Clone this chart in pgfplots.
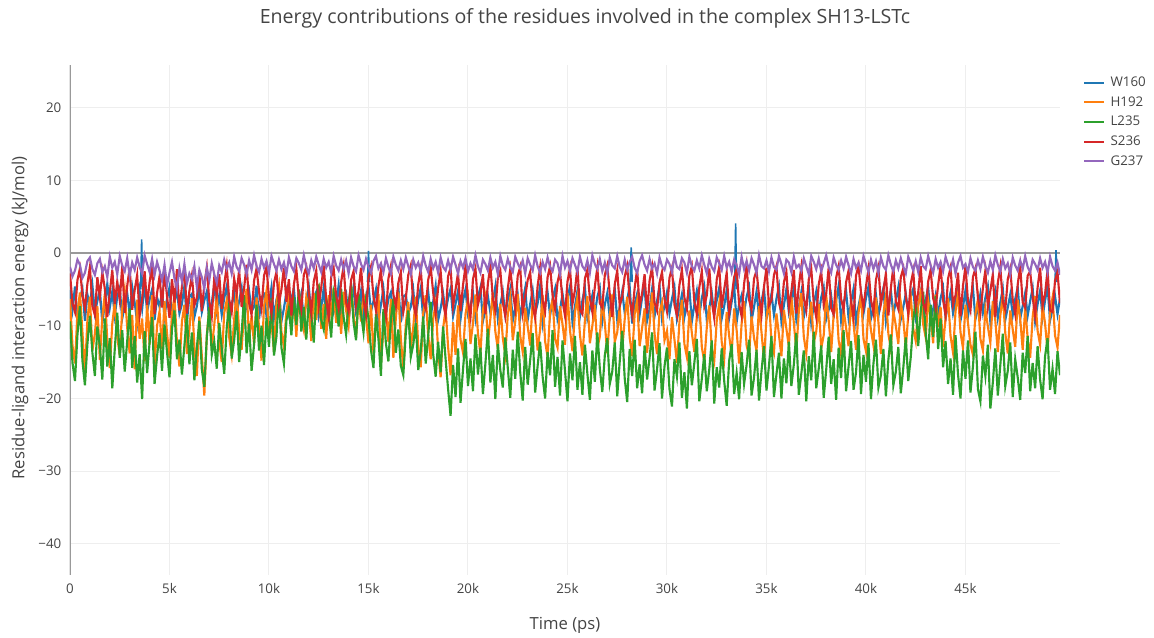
\documentclass[border=0pt]{standalone}
\usepackage{fontspec}
\setmainfont{Open Sans}
\usepackage{pgfplots}
\pgfplotsset{compat=1.18}
\usepackage{pgfplotstable}
\definecolor{cW}{HTML}{1F77B4}
\definecolor{cH}{HTML}{FF7F0E}
\definecolor{cL}{HTML}{2CA02C}
\definecolor{cS}{HTML}{D62728}
\definecolor{cG}{HTML}{9467BD}
\definecolor{txt}{HTML}{444444}
\definecolor{gridc}{HTML}{EEEEEE}
\definecolor{zeroc}{HTML}{999999}

\pgfplotstableread{
t W H L S G
0 -5.1 -6.3 -9.4 -2.8 -1.9
125 -7.8 -12.7 -15.1 -6.9 -3.2
250 -4.6 -15.2 -17.6 -8.1 -2.4
375 -8.9 -8.1 -11.2 -3.7 -0.9
500 -6.2 -5.4 -7.3 -2.1 -1.6
625 -4.9 -10.9 -14.8 -5.8 -3.4
750 -9.3 -16.6 -18.2 -7.6 -2.7
875 -5.7 -9.2 -12.5 -4.2 -1.1
1000 -7.1 -6.0 -8.6 -1.9 -0.6
1125 -4.4 -13.4 -13.7 -7.3 -2.2
1250 -8.2 -11.1 -16.9 -8.5 -3.0
1375 -6.6 -7.3 -10.1 -3.3 -1.4
1500 -5.0 -14.7 -12.8 -6.0 -0.8
1625 -9.7 -8.8 -17.4 -2.6 -2.6
1750 -6.9 -5.6 -9.0 -4.9 -1.8
1875 -4.2 -12.0 -15.6 -8.8 -3.3
2000 -7.5 -15.8 -11.7 -5.4 -0.5
2125 -5.3 -9.7 -18.6 -2.3 -2.0
2250 -8.6 -6.8 -13.2 -7.0 -1.2
2375 -6.0 -11.5 -8.2 -3.9 -2.9
2500 -4.8 -14.1 -14.4 -6.5 -0.4
2625 -9.0 -7.6 -10.6 -1.8 -1.7
2750 -7.2 -5.1 -16.3 -8.2 -2.5
2875 -5.5 -10.3 -12.1 -4.5 -0.7
3000 -8.4 -13.8 -7.6 -2.0 -3.1
3125 -4.6 -8.5 -15.8 -7.8 -1.3
3250 -6.8 -16.0 -11.4 -5.1 -2.3
3375 -9.5 -6.4 -17.8 -3.0 -0.6
3500 -5.2 -11.8 -13.9 -8.6 -1.9
3625 -7.7 -9.0 -20.1 -6.3 -2.8
3750 -4.3 -14.9 -10.7 -2.5 -0.3
3875 -8.0 -7.0 -16.5 -7.1 -1.5
4000 -6.4 -12.6 -12.3 -4.0 -2.6
4125 -5.0 -5.8 -8.8 -1.7 -0.8
4250 -9.2 -15.5 -18.0 -8.4 -3.0
4375 -6.1 -10.0 -14.2 -5.5 -1.2
4500 -7.4 -8.0 -11.0 -3.2 -2.4
4625 -5.4 -13.2 -16.2 -7.5 -3.8
4750 -8.7 -6.6 -9.8 -2.4 -1.6
4875 -6.3 -11.0 -13.6 -5.9 -4.4
5000 -4.7 -14.4 -17.1 -8.9 -2.7
5125 -9.1 -8.3 -10.4 -3.6 -1.2
5250 -6.7 -5.9 -7.9 -6.8 -3.5
5375 -5.1 -12.3 -14.6 -2.2 -4.9
5500 -8.3 -15.6 -11.9 -7.9 -2.1
5625 -7.0 -9.4 -16.7 -4.6 -3.9
5750 -4.5 -7.1 -12.7 -1.9 -1.5
5875 -9.4 -13.9 -8.5 -8.3 -4.2
6000 -6.0 -10.5 -15.3 -5.2 -2.8
6125 -5.6 -6.2 -10.9 -3.1 -3.6
6250 -8.8 -12.8 -17.5 -7.2 -1.8
6375 -7.3 -16.9 -13.0 -6.1 -4.7
6500 -4.9 -8.7 -9.3 -2.7 -2.3
6625 -8.1 -14.2 -16.0 -8.0 -3.3
6750 -6.5 -19.6 -18.4 -4.3 -4.9
6875 -5.3 -11.3 -11.6 -2.0 -2.0
7000 -9.6 -7.5 -7.4 -6.6 -3.7
7125 -6.8 -13.0 -14.0 -8.7 -1.4
7250 -4.4 -9.9 -12.2 -3.4 -2.9
7375 -7.9 -5.7 -15.9 -5.7 -4.1
7500 -5.8 -12.1 -9.6 -2.9 -1.7
7625 -8.5 -15.0 -13.1 -7.7 -2.6
7750 -6.2 -8.2 -16.6 -4.4 -0.9
7875 -4.6 -6.5 -10.3 -1.8 -2.2
8000 -9.0 -11.6 -6.9 -6.4 -1.3
8125 -7.1 -14.0 -14.5 -8.1 -2.8
8250 -5.5 -9.1 -12.0 -3.5 -0.5
8375 -8.3 -5.3 -8.0 -5.6 -1.9
8500 -6.6 -10.7 -15.0 -2.3 -2.5
8625 -4.8 -13.3 -11.1 -7.4 -0.7
8750 -9.3 -7.8 -5.8 -4.8 -1.6
8875 -6.9 -4.9 -13.8 -1.6 -2.9
9000 -5.2 -11.9 -9.7 -6.9 -1.0
9125 -8.0 -8.6 -16.2 -8.5 -2.3
9250 -7.4 -12.6 -12.6 -3.8 -0.3
9375 -4.5 -6.1 -7.1 -2.1 -1.8
9500 -9.1 -10.2 -13.4 -5.3 -2.6
9625 -6.1 -14.8 -10.0 -7.6 -0.8
9750 -5.7 -7.3 -15.4 -3.1 -2.0
9875 -8.7 -5.2 -8.9 -1.9 -1.1
10000 -7.0 -11.4 -12.9 -6.2 -2.7
10125 -4.7 -9.5 -6.2 -8.3 -0.4
10250 -8.9 -13.6 -14.1 -4.1 -1.5
10375 -6.4 -6.9 -11.5 -2.6 -2.4
10500 -5.0 -4.6 -5.5 -7.0 -0.9
10625 -9.4 -10.8 -13.0 -5.0 -2.2
10750 -7.6 -12.9 -15.2 -2.0 -1.3
10875 -5.4 -8.0 -9.3 -6.7 -2.9
11000 -8.2 -5.9 -7.6 -3.6 -0.6
11125 -6.3 -9.7 -11.3 -8.6 -1.8
11250 -4.9 -6.4 -6.0 -4.3 -2.5
11375 -8.6 -11.5 -9.9 -2.2 -0.7
11500 -7.2 -5.1 -5.0 -6.1 -1.4
11625 -5.6 -8.9 -10.8 -7.8 -2.3
11750 -9.0 -10.6 -7.4 -3.0 -0.3
11875 -6.7 -6.0 -11.9 -1.9 -1.9
12000 -4.6 -7.7 -6.5 -5.5 -2.8
12125 -8.4 -12.1 -8.6 -8.2 -1.0
12250 -6.0 -5.5 -12.3 -3.9 -2.1
12375 -5.3 -9.2 -5.7 -2.4 -0.5
12500 -8.8 -4.3 -4.7 -7.2 -1.6
12625 -7.5 -10.4 -9.2 -4.7 -2.6
12750 -4.8 -7.0 -10.5 -1.7 -0.8
12875 -9.2 -11.8 -6.3 -6.4 -2.0
13000 -6.5 -5.8 -8.1 -8.8 -1.2
13125 -5.1 -8.4 -11.6 -3.3 -2.7
13250 -8.1 -4.8 -5.4 -2.1 -0.4
13375 -7.0 -9.6 -7.0 -5.9 -1.7
13500 -4.4 -6.7 -10.1 -7.6 -2.4
13625 -8.7 -11.1 -4.9 -4.0 -0.9
13750 -6.2 -5.3 -8.8 -1.8 -2.2
13875 -5.5 -7.9 -11.2 -6.8 -1.0
14000 -9.1 -10.0 -6.8 -8.0 -2.8
14125 -6.8 -4.5 -4.4 -3.7 -0.6
14250 -4.7 -8.3 -9.5 -2.5 -1.8
14375 -8.2 -11.5 -12.0 -7.1 -2.5
14500 -7.3 -6.2 -5.6 -5.2 -0.3
14625 -5.2 -9.4 -8.3 -2.0 -1.5
14750 -8.9 -5.6 -10.9 -6.5 -2.3
14875 -6.1 -8.7 -6.6 -8.4 -0.8
15000 -4.5 -12.4 -9.0 -3.4 -1.9
15125 -8.0 -7.1 -13.3 -1.9 -2.7
15250 -6.6 -13.8 -15.8 -6.0 -1.1
15375 -5.0 -9.0 -8.4 -7.9 -0.4
15500 -9.3 -5.6 -11.8 -4.5 -2.1
15625 -7.1 -15.1 -16.9 -2.3 -1.4
15750 -4.9 -10.6 -7.7 -6.6 -2.6
15875 -8.5 -7.4 -12.4 -8.7 -0.7
16000 -6.3 -12.2 -14.9 -3.5 -1.9
16125 -5.4 -6.3 -9.1 -1.8 -2.8
16250 -8.8 -14.4 -6.3 -5.7 -0.5
16375 -7.0 -8.9 -13.7 -7.3 -1.6
16500 -4.6 -5.3 -10.5 -4.1 -2.4
16625 -9.5 -11.7 -15.5 -2.6 -1.0
16750 -6.0 -16.0 -16.8 -8.1 -2.2
16875 -5.7 -9.8 -11.0 -6.2 -0.6
17000 -8.3 -6.7 -7.9 -3.0 -1.8
17125 -7.4 -13.1 -14.3 -1.7 -2.9
17250 -5.1 -10.2 -12.6 -7.0 -0.9
17375 -8.9 -6.0 -9.6 -8.5 -2.0
17500 -6.4 -12.8 -16.1 -4.3 -1.3
17625 -4.8 -15.7 -13.5 -2.2 -2.5
17750 -9.0 -8.3 -8.7 -6.8 -0.4
17875 -7.2 -5.8 -15.2 -7.7 -1.7
18000 -5.3 -11.3 -11.4 -3.7 -2.6
18125 -8.6 -14.6 -6.7 -1.9 -0.8
18250 -6.7 -9.1 -13.9 -5.4 -2.1
18375 -4.5 -6.9 -17.0 -8.3 -1.2
18500 -9.2 -13.5 -12.2 -4.8 -2.7
18625 -7.6 -17.1 -16.4 -2.5 -0.6
18750 -5.6 -10.4 -10.1 -6.9 -1.9
18875 -8.1 -7.6 -14.6 -8.6 -2.4
19000 -6.2 -12.9 -18.7 -3.2 -1.0
19125 -4.9 -16.8 -22.4 -2.0 -2.3
19250 -8.7 -9.5 -15.4 -7.4 -0.5
19375 -7.0 -14.0 -19.8 -5.0 -1.6
19500 -5.2 -7.2 -13.1 -2.7 -2.8
19625 -9.1 -11.9 -20.6 -8.0 -1.1
19750 -6.5 -13.7 -16.0 -4.4 -2.0
19875 -5.0 -8.4 -11.8 -1.8 -0.7
20000 -8.4 -6.3 -18.3 -6.7 -2.5
20125 -7.3 -12.5 -14.5 -8.8 -1.4
20250 -5.5 -9.7 -19.0 -3.6 -2.2
20375 -8.9 -5.7 -11.2 -2.1 -0.3
20500 -6.1 -11.0 -16.7 -7.1 -1.8
20625 -4.7 -13.9 -13.0 -5.6 -2.7
20750 -9.4 -7.8 -19.4 -2.9 -0.9
20875 -7.7 -6.0 -15.2 -8.4 -1.5
21000 -5.9 -12.3 -10.4 -4.2 -2.4
21125 -8.2 -9.0 -17.8 -1.7 -0.6
21250 -6.8 -5.4 -14.0 -6.3 -2.0
21375 -4.6 -10.8 -20.1 -7.9 -1.2
21500 -9.0 -13.2 -12.5 -3.4 -2.9
21625 -7.1 -7.0 -16.1 -2.4 -0.4
21750 -5.3 -11.7 -18.5 -6.8 -1.7
21875 -8.5 -14.0 -11.6 -8.7 -2.3
22000 -6.4 -8.5 -15.8 -4.9 -0.8
22125 -4.9 -6.2 -19.9 -2.2 -1.9
22250 -9.3 -12.0 -13.3 -5.3 -2.6
22375 -7.5 -9.4 -17.3 -7.6 -0.5
22500 -5.7 -5.6 -10.8 -3.1 -1.4
22625 -8.8 -11.4 -16.4 -1.9 -2.1
22750 -6.6 -13.6 -20.3 -8.2 -1.0
22875 -4.8 -7.5 -12.9 -6.0 -2.8
23000 -9.2 -10.1 -18.1 -3.7 -0.7
23125 -7.0 -12.7 -14.7 -2.6 -1.6
23250 -5.1 -6.6 -11.0 -7.3 -2.4
23375 -8.3 -8.9 -19.2 -8.9 -0.3
23500 -6.9 -13.4 -15.5 -4.5 -1.8
23625 -4.5 -10.5 -12.2 -2.0 -2.7
23750 -9.6 -5.8 -17.0 -6.5 -1.2
23875 -7.2 -12.1 -20.0 -8.0 -2.2
24000 -5.4 -14.3 -13.6 -3.3 -0.6
24125 -8.6 -8.0 -16.8 -1.8 -1.9
24250 -6.3 -6.4 -10.6 -5.8 -2.5
24375 -4.9 -11.8 -18.4 -7.7 -0.9
24500 -9.1 -13.0 -14.3 -4.0 -1.4
24625 -7.8 -7.3 -19.6 -2.5 -2.9
24750 -5.6 -9.8 -12.0 -6.6 -0.4
24875 -8.1 -12.6 -16.2 -8.6 -2.0
25000 -6.2 -5.5 -20.4 -3.9 -1.1
25125 -4.6 -10.6 -13.8 -2.1 -2.4
25250 -9.5 -13.5 -17.5 -7.0 -0.7
25375 -7.3 -8.2 -11.4 -5.1 -1.6
25500 -5.2 -6.1 -18.8 -1.9 -2.6
25625 -8.7 -11.2 -15.0 -7.8 -0.5
25750 -6.5 -14.1 -19.5 -8.4 -1.8
25875 -4.7 -9.3 -12.6 -3.5 -2.3
26000 -9.0 -5.9 -16.6 -2.3 -1.0
26125 -7.6 -12.4 -20.2 -6.2 -2.7
26250 -5.8 -10.0 -13.4 -8.1 -0.3
26375 -8.4 -7.1 -17.7 -4.6 -1.5
26500 -6.0 -13.1 -10.9 -2.0 -2.2
26625 -4.8 -11.5 -15.9 -6.9 -0.8
26750 -9.4 -6.3 -19.1 -7.5 -2.5
26875 -7.1 -9.6 -14.1 -3.0 -1.3
27000 -5.5 -13.8 -11.7 -1.7 -2.8
27125 -8.9 -8.6 -18.0 -5.7 -0.6
27250 -6.7 -5.7 -16.3 -8.8 -1.7
27375 -4.9 -12.2 -12.3 -4.3 -2.1
27500 -9.2 -10.9 -19.7 -2.4 -0.4
27625 -7.4 -7.4 -14.9 -7.2 -1.9
27750 -5.3 -13.3 -10.7 -6.0 -2.6
27875 -8.2 -9.1 -17.2 -3.2 -0.9
28000 -6.4 -6.0 -20.5 -1.8 -2.3
28125 -4.6 -11.6 -13.2 -6.4 -1.2
28250 -9.7 -14.2 -16.9 -8.5 -0.5
28375 -7.0 -8.4 -11.9 -4.8 -2.0
28500 -5.6 -6.5 -18.6 -2.2 -2.7
28625 -8.5 -12.8 -15.3 -7.4 -1.1
28750 -6.1 -10.3 -19.3 -5.5 -0.3
28875 -4.8 -7.6 -12.7 -2.9 -1.6
29000 -9.3 -13.7 -17.4 -8.3 -2.4
29125 -7.7 -9.9 -14.4 -3.8 -0.8
29250 -5.0 -5.4 -10.9 -1.9 -2.1
29375 -8.7 -11.1 -18.9 -6.8 -1.4
29500 -6.6 -13.9 -16.0 -7.9 -2.8
29625 -4.5 -8.1 -12.4 -4.1 -0.6
29750 -9.0 -6.8 -20.0 -2.6 -1.8
29875 -7.2 -12.0 -15.6 -6.3 -2.3
30000 -5.4 -10.7 -13.0 -8.0 -0.9
30125 -8.3 -14.6 -18.7 -3.4 -1.5
30250 -6.3 -8.8 -21.1 -2.0 -2.6
30375 -4.7 -11.9 -14.6 -7.1 -0.4
30500 -9.1 -15.1 -17.0 -8.6 -1.9
30625 -7.5 -9.5 -12.3 -4.4 -2.2
30750 -5.7 -6.4 -19.9 -2.3 -0.7
30875 -8.8 -12.5 -16.4 -6.1 -1.3
31000 -6.8 -14.3 -21.4 -7.7 -2.7
31125 -4.9 -7.9 -13.5 -3.1 -0.5
31250 -9.4 -11.0 -18.2 -1.8 -1.8
31375 -7.1 -13.6 -15.1 -6.7 -2.4
31500 -5.2 -8.6 -11.8 -8.4 -1.0
31625 -8.6 -6.7 -20.4 -4.7 -2.1
31750 -6.2 -12.9 -17.3 -2.5 -0.3
31875 -4.6 -15.0 -13.9 -7.3 -1.6
32000 -9.2 -10.2 -19.0 -5.8 -2.8
32125 -7.6 -7.2 -16.0 -2.1 -0.8
32250 -5.5 -13.1 -12.0 -6.6 -1.9
32375 -8.4 -14.8 -20.7 -8.9 -2.5
32500 -6.5 -9.3 -15.7 -3.6 -0.6
32625 -4.8 -6.9 -18.5 -1.9 -1.4
32750 -9.0 -12.2 -13.1 -7.5 -2.3
32875 -7.3 -14.5 -17.6 -5.0 -0.4
33000 -5.1 -8.1 -21.0 -2.7 -2.0
33125 -8.9 -11.4 -14.8 -8.2 -1.2
33250 -6.7 -13.9 -12.5 -6.0 -2.6
33375 -4.5 -7.6 -19.4 -3.3 -0.9
33500 -9.5 -10.6 -16.5 -2.2 -1.7
33625 -7.0 -15.2 -20.1 -7.0 -2.9
33750 -5.8 -9.7 -13.6 -8.7 -0.5
33875 -8.2 -6.6 -18.0 -4.2 -2.2
34000 -6.0 -12.7 -15.4 -1.7 -1.1
34125 -4.7 -14.1 -11.9 -6.4 -2.4
34250 -9.3 -8.7 -19.6 -7.8 -0.7
34375 -7.4 -11.7 -17.1 -3.5 -1.6
34500 -5.3 -13.4 -13.3 -2.4 -2.7
34625 -8.7 -7.3 -20.3 -5.9 -0.3
34750 -6.6 -10.9 -16.2 -8.5 -1.8
34875 -4.9 -14.7 -12.8 -4.6 -2.1
35000 -9.0 -9.0 -18.9 -2.0 -1.0
35125 -7.7 -6.2 -15.5 -7.2 -2.5
35250 -5.6 -12.3 -11.4 -6.5 -0.6
35375 -8.5 -13.7 -19.8 -3.0 -1.9
35500 -6.3 -8.3 -16.7 -1.8 -2.3
35625 -4.6 -11.2 -13.7 -6.8 -0.4
35750 -9.4 -14.2 -20.0 -8.1 -1.5
35875 -7.2 -7.8 -14.5 -4.0 -2.8
36000 -5.0 -10.4 -17.9 -2.6 -0.9
36125 -8.1 -12.9 -12.2 -7.4 -1.3
36250 -6.4 -6.0 -18.3 -5.3 -2.6
36375 -4.8 -9.6 -15.3 -2.3 -0.5
36500 -9.2 -13.5 -11.0 -8.3 -2.0
36625 -7.5 -8.0 -19.5 -4.5 -1.6
36750 -5.4 -5.5 -16.6 -1.9 -2.4
36875 -8.8 -11.5 -13.4 -6.2 -0.7
37000 -6.9 -13.8 -20.4 -7.9 -1.8
37125 -4.6 -9.4 -14.2 -3.6 -2.9
37250 -9.6 -6.7 -17.5 -2.1 -0.4
37375 -7.1 -12.4 -10.8 -6.9 -1.2
37500 -5.3 -10.8 -18.6 -8.8 -2.2
37625 -8.4 -7.0 -15.9 -4.3 -0.8
37750 -6.1 -13.1 -12.7 -2.5 -2.5
37875 -4.7 -11.3 -19.9 -7.1 -1.4
38000 -9.1 -5.8 -16.1 -5.6 -0.3
38125 -7.8 -9.2 -11.5 -2.0 -1.9
38250 -5.9 -13.6 -18.0 -7.6 -2.7
38375 -8.6 -8.5 -14.6 -8.4 -0.6
38500 -6.5 -6.3 -20.2 -3.4 -1.6
38625 -4.5 -12.0 -13.0 -1.8 -2.3
38750 -9.3 -14.0 -17.2 -6.3 -1.0
38875 -7.0 -7.7 -10.6 -7.8 -2.1
39000 -5.2 -10.3 -19.0 -4.0 -0.5
39125 -8.9 -12.8 -15.6 -2.4 -1.7
39250 -6.8 -6.5 -12.1 -6.7 -2.8
39375 -4.9 -9.7 -18.8 -8.9 -0.8
39500 -9.5 -13.3 -16.4 -3.1 -2.0
39625 -7.3 -8.2 -11.3 -1.7 -1.3
39750 -5.5 -5.6 -19.4 -5.5 -2.4
39875 -8.3 -11.8 -14.0 -7.5 -0.4
40000 -6.2 -13.5 -17.7 -4.6 -1.5
40125 -4.6 -7.5 -12.4 -2.2 -2.6
40250 -9.0 -10.6 -20.1 -6.4 -0.9
40375 -7.6 -12.7 -15.2 -8.2 -2.2
40500 -5.7 -6.1 -11.9 -3.7 -1.1
40625 -8.7 -9.5 -18.5 -2.0 -2.7
40750 -6.3 -13.9 -16.8 -7.0 -0.6
40875 -4.8 -8.3 -13.2 -5.2 -1.8
41000 -9.4 -5.9 -19.7 -2.8 -2.3
41125 -7.2 -11.1 -14.7 -8.6 -0.3
41250 -5.1 -13.2 -11.2 -4.8 -1.6
41375 -8.5 -7.9 -18.2 -1.9 -2.5
41500 -6.6 -10.0 -16.3 -6.6 -1.0
41625 -4.7 -12.5 -12.9 -7.7 -2.1
41750 -9.1 -6.8 -19.3 -3.3 -0.7
41875 -7.4 -9.1 -15.8 -2.1 -1.9
42000 -5.6 -13.0 -11.6 -6.0 -2.8
42125 -8.2 -8.6 -17.6 -8.3 -0.5
42250 -6.0 -6.0 -14.3 -4.2 -1.4
42375 -4.9 -10.4 -9.4 -2.5 -2.4
42500 -8.8 -12.1 -6.2 -7.3 -1.1
42625 -7.1 -7.2 -12.8 -5.4 -2.6
42750 -5.3 -5.4 -8.0 -1.8 -0.6
42875 -8.4 -9.8 -5.3 -6.9 -1.8
43000 -6.5 -11.6 -10.9 -8.0 -2.2
43125 -4.6 -6.5 -14.6 -3.9 -0.4
43250 -9.2 -8.9 -7.1 -2.3 -1.7
43375 -7.7 -12.4 -11.5 -6.2 -2.7
43500 -5.8 -5.7 -5.9 -7.6 -0.8
43625 -8.6 -10.2 -13.2 -4.4 -2.0
43750 -6.2 -7.4 -9.0 -1.7 -1.2
43875 -4.8 -12.9 -15.7 -6.5 -2.5
44000 -9.0 -8.8 -12.1 -8.5 -0.5
44125 -7.0 -6.2 -18.0 -3.5 -1.6
44250 -5.4 -11.4 -14.5 -2.0 -2.3
44375 -8.3 -13.7 -19.5 -7.1 -0.9
44500 -6.7 -8.0 -11.3 -5.8 -2.8
44625 -4.5 -5.6 -16.7 -2.7 -1.3
44750 -9.3 -10.9 -20.0 -8.7 -0.4
44875 -7.4 -13.1 -13.4 -4.5 -2.0
45000 -5.1 -7.1 -17.3 -1.8 -1.5
45125 -8.7 -9.6 -12.0 -6.6 -2.6
45250 -6.4 -12.6 -19.2 -7.9 -0.7
45375 -4.8 -14.0 -15.6 -3.3 -1.9
45500 -9.1 -8.4 -10.8 -2.1 -2.4
45625 -7.6 -6.3 -18.7 -6.1 -1.0
45750 -5.6 -11.8 -20.4 -8.3 -2.2
45875 -8.2 -13.4 -14.1 -4.8 -0.5
46000 -6.1 -7.7 -16.9 -2.4 -1.8
46125 -4.6 -10.1 -12.6 -7.4 -2.7
46250 -9.5 -12.3 -21.4 -5.2 -1.1
46375 -7.2 -6.6 -17.8 -2.9 -2.3
46500 -5.3 -9.3 -13.1 -8.8 -0.3
46625 -8.9 -13.6 -19.6 -4.1 -1.6
46750 -6.8 -8.6 -15.4 -1.9 -2.5
46875 -4.9 -5.8 -11.1 -6.7 -0.8
47000 -9.2 -11.0 -18.3 -7.8 -2.1
47125 -7.5 -13.8 -16.2 -3.6 -1.4
47250 -5.7 -7.9 -12.3 -2.2 -2.9
47375 -8.5 -10.5 -19.8 -6.4 -0.6
47500 -6.3 -12.9 -14.6 -8.4 -1.7
47625 -4.7 -6.4 -17.1 -4.3 -2.4
47750 -9.0 -9.0 -20.2 -1.8 -1.0
47875 -7.3 -13.3 -13.7 -6.8 -2.2
48000 -5.5 -7.5 -16.5 -7.5 -0.4
48125 -8.6 -11.7 -11.4 -3.1 -1.9
48250 -6.6 -14.4 -19.0 -2.5 -2.6
48375 -4.8 -8.8 -15.1 -6.0 -0.9
48500 -9.4 -5.9 -18.6 -8.6 -1.5
48625 -7.0 -10.7 -12.8 -4.7 -2.3
48750 -5.2 -12.6 -17.4 -2.0 -0.7
48875 -8.8 -7.3 -20.1 -7.2 -2.0
49000 -6.5 -9.7 -14.2 -5.6 -1.2
49125 -4.6 -13.5 -11.7 -2.3 -2.7
49250 -9.3 -8.1 -18.8 -7.9 -0.5
49375 -7.7 -6.1 -15.9 -8.1 -1.8
49500 -5.9 -11.3 -19.4 -3.8 -2.4
49625 -8.4 -13.0 -13.5 -2.6 -1.3
49750 -6.2 -8.5 -16.8 -6.9 -3.0
}\data

\begin{document}
\begin{tikzpicture}
\begin{scope}[x=0.75pt,y=0.75pt]
\useasboundingbox (0,0) rectangle (1154,638);
\node[font=\fontsize{14.7}{17}\selectfont, text=txt] at (585,620) {Energy contributions of the residues involved in the complex SH13-LSTc};
\node[font=\fontsize{12.5}{15}\selectfont, text=txt] at (565,13) {Time (ps)};
\node[font=\fontsize{12.5}{15}\selectfont, text=txt, rotate=90] at (20,320) {Residue-ligand interaction energy (kJ/mol)};
\end{scope}
\begin{axis}[
  at={(52.5pt,47.25pt)}, anchor=south west,
  scale only axis, width=742.5pt, height=382.5pt,
  xmin=0, xmax=49750, ymin=-44.3, ymax=25.9,
  scaled x ticks=false, scaled y ticks=false,
  axis line style={draw=none},
  major tick length=0pt,
  tick style={draw=none},
  grid=major,
  grid style={color=gridc, line width=0.75pt},
  xtick={0,5000,10000,15000,20000,25000,30000,35000,40000,45000},
  xticklabels={0,5k,10k,15k,20k,25k,30k,35k,40k,45k},
  ytick={-40,-30,-20,-10,0,10,20},
  yticklabels={−40,−30,−20,−10,0,10,20},
  tick label style={font=\fontsize{10}{12}\selectfont, text=txt},
  xticklabel style={yshift=-3pt},
  yticklabel style={xshift=-3pt},
  legend cell align=left,
  legend style={at={(1.0232,0.980)}, anchor=north west, draw=none, fill=none,
    font=\fontsize{10}{12}\selectfont, text=txt, inner sep=0pt, row sep=4pt,
    nodes={inner sep=1pt},
    /tikz/every odd column/.append style={column sep=3pt}},
  legend image code/.code={\draw[#1] (0pt,0pt) -- (15pt,0pt);},
]
\addlegendimage{cW, line width=1.5pt}
\addlegendimage{cH, line width=1.5pt}
\addlegendimage{cL, line width=1.5pt}
\addlegendimage{cS, line width=1.5pt}
\addlegendimage{cG, line width=1.5pt}
\legend{W160,H192,L235,S236,G237}
\draw[zeroc, line width=1pt] (axis cs:0,-44.3) -- (axis cs:0,25.9);
\draw[zeroc, line width=1pt] (axis cs:0,0) -- (axis cs:49750,0);
\addplot[cW, line width=1.6pt, forget plot] table[x=t,y=W] {\data};
\addplot[cW, line width=1.2pt, forget plot] coordinates {(3550,-5.0) (3600,1.9) (3650,-5.0)};
\addplot[cW, line width=1.2pt, forget plot] coordinates {(14950,-4.0) (15000,0.3) (15050,-4.0)};
\addplot[cW, line width=1.2pt, forget plot] coordinates {(28150,-4.0) (28200,0.8) (28250,-4.0)};
\addplot[cW, line width=1.2pt, forget plot] coordinates {(33400,-5.0) (33450,4.1) (33500,-5.0)};
\addplot[cW, line width=1.2pt, forget plot] coordinates {(49500,-4.0) (49550,0.4) (49600,-4.0)};
\addplot[cH, line width=1.6pt, forget plot] table[x=t,y=H] {\data};
\addplot[cL, line width=1.6pt, forget plot] table[x=t,y=L] {\data};
\addplot[cS, line width=1.6pt, forget plot] table[x=t,y=S] {\data};
\addplot[cG, line width=1.6pt, forget plot] table[x=t,y=G] {\data};
\end{axis}
\end{tikzpicture}
\end{document}
